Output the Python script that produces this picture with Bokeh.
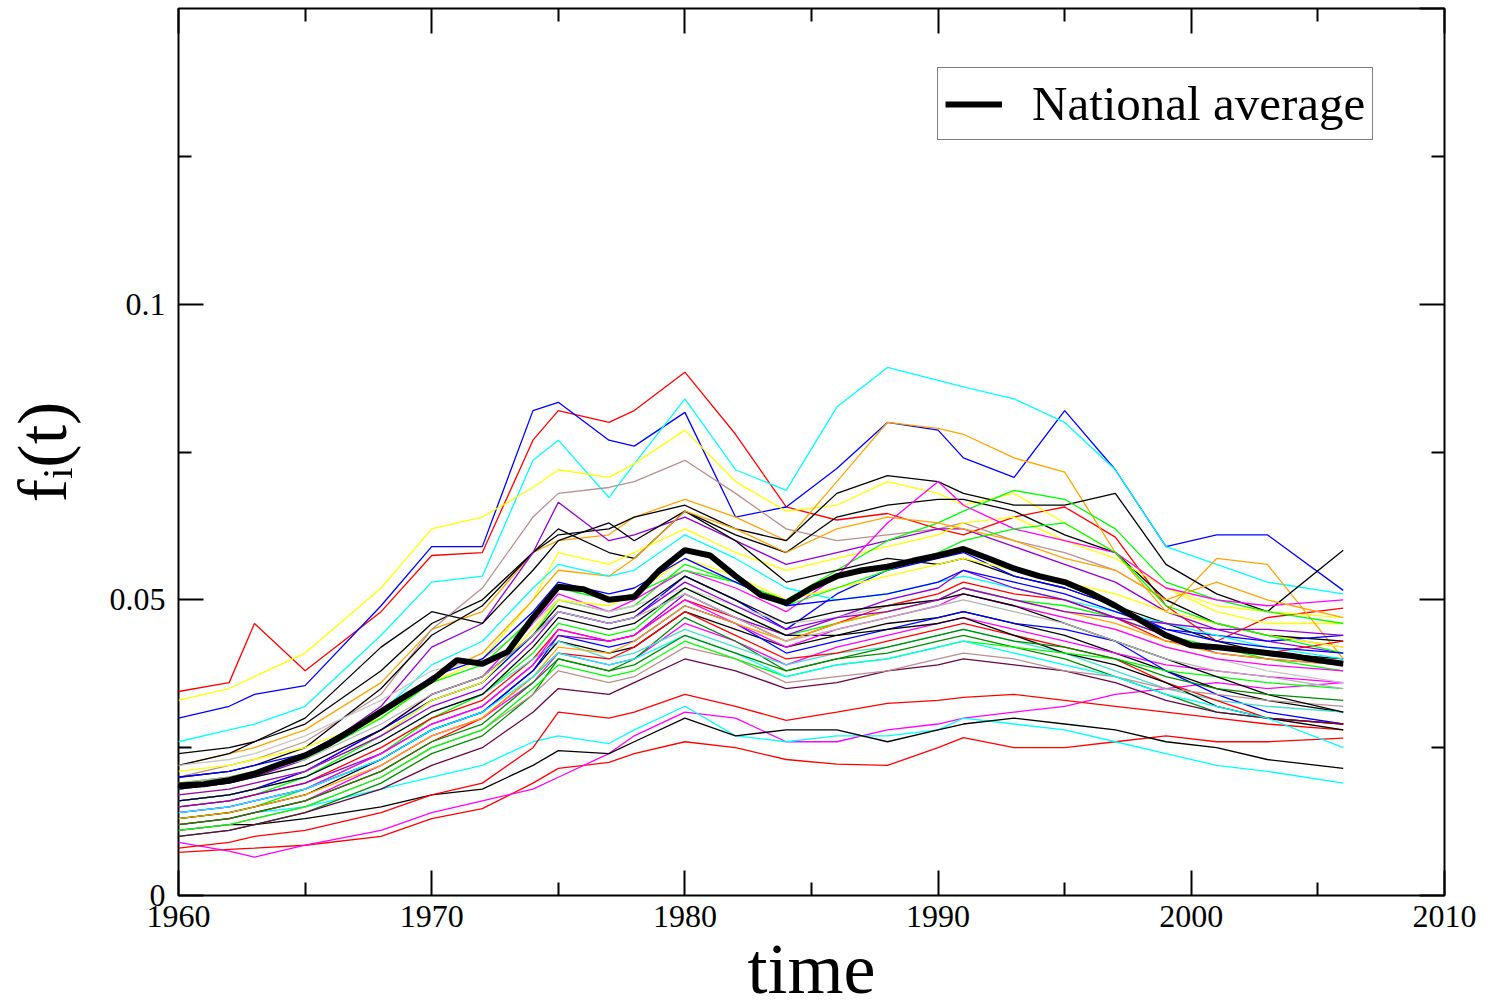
from bokeh.plotting import figure
from bokeh.models import (ColumnDataSource, FixedTicker, LinearAxis, Legend,
                          LegendItem, CustomJSTickFormatter, Range1d)
from bokeh.embed import file_html
from bokeh.resources import INLINE

# ---------------- data ----------------
YEARS = list(range(1960, 2007))
NATIONAL_AVERAGE = [
    0.0186, 0.0188, 0.0195, 0.0206, 0.0222, 0.0237, 0.0258, 0.0284, 0.0311, 0.0338,
    0.0364, 0.0398, 0.0392, 0.0412, 0.0470, 0.0522, 0.0518, 0.0500, 0.0505, 0.0550,
    0.0584, 0.0575, 0.0540, 0.0508, 0.0495, 0.0520, 0.0540, 0.0550, 0.0556, 0.0566,
    0.0575, 0.0586, 0.0570, 0.0553, 0.0540, 0.0530, 0.0512, 0.0490, 0.0465, 0.0440,
    0.0423, 0.0420, 0.0415, 0.0410, 0.0405, 0.0398, 0.0392]

KEY_YEARS = [1960, 1962, 1963, 1965, 1968, 1970, 1972, 1974, 1975, 1977, 1978, 1980, 1982,
             1984, 1986, 1988, 1990, 1991, 1993, 1995, 1997, 1999, 2001, 2003, 2006]

STATE_SERIES = [
    [.0345, .036, .046, .038, .048, .0575, .058, .077, .082, .080, .082, .0885, .078, .0657, .0635, .0646, .062, .061, .064, .0657, .0606, .049, .043, .047, .0486],
    [.030, .032, .034, .0355, .049, .059, .059, .082, .0834, .077, .076, .0817, .064, .0657, .0722, .080, .0787, .074, .0707, .082, .072, .059, .061, .061, .0516],
    [.026, .028, .029, .032, .044, .053, .054, .0736, .077, .0673, .073, .084, .072, .0685, .0826, .0893, .0871, .086, .084, .080, .072, .059, .056, .053, .051],
    [.033, .035, .037, .041, .052, .062, .064, .069, .072, .0707, .073, .0787, .070, .065, .066, .070, .068, .066, .068, .063, .058, .052, .048, .046, .046],
    [.022, .024, .025, .028, .036, .045, .048, .058, .060, .061, .064, .067, .064, .060, .070, .080, .079, .078, .074, .0716, .058, .048, .057, .056, .040],
    [.022, .024, .026, .029, .038, .046, .050, .058, .061, .062, .064, .066, .062, .060, .068, .071, .070, .068, .066, .066, .068, .056, .051, .048, .0584],
    [.0073, .0078, .008, .0085, .010, .013, .0147, .019, .0215, .0225, .024, .026, .025, .023, .0222, .022, .025, .0267, .025, .025, .026, .027, .026, .026, .0266],
    [.009, .0075, .0065, .0085, .011, .014, .016, .018, .020, .024, .027, .031, .030, .026, .026, .028, .029, .030, .031, .032, .034, .035, .036, .035, .036],
    [.012, .013, .014, .015, .018, .020, .022, .026, .027, .0257, .028, .032, .027, .026, .027, .027, .028, .030, .029, .028, .026, .024, .022, .021, .019],
    [.011, .012, .012, .013, .015, .017, .018, .022, .0245, .024, .026, .030, .027, .028, .028, .026, .028, .029, .030, .029, .028, .026, .025, .023, .0215],
    [.008, .009, .010, .011, .014, .017, .019, .025, .031, .030, .031, .034, .032, .0296, .031, .0325, .033, .0335, .034, .033, .032, .031, .030, .029, .028],
    [.020, .022, .023, .026, .034, .045, .052, .064, .068, .069, .070, .0736, .068, .062, .060, .061, .062, .063, .060, .058, .055, .050, .046, .044, .042],
    [.020, .021, .022, .025, .035, .044, .049, .058, .062, .058, .057, .065, .061, .058, .064, .066, .067, .067, .065, .061, .058, .050, .046, .044, .043],
    [.018, .019, .020, .023, .032, .042, .046, .058, .0665, .060, .061, .064, .060, .056, .058, .060, .062, .062, .059, .056, .053, .048, .045, .043, .041],
    [.021, .022, .023, .025, .030, .036, .040, .050, .058, .056, .058, .062, .058, .055, .057, .059, .061, .063, .064, .060, .057, .052, .049, .048, .047],
    [.015, .016, .017, .020, .027, .033, .036, .044, .050, .048, .049, .056, .053, .050, .055, .060, .063, .065, .0685, .067, .062, .053, .050, .048, .046],
    [.016, .017, .018, .021, .028, .034, .037, .046, .051, .048, .050, .055, .052, .048, .054, .063, .070, .066, .062, .060, .058, .052, .050, .049, .050],
    [.024, .025, .026, .030, .042, .048, .046, .055, .060, .063, .060, .065, .060, .053, .055, .057, .056, .057, .054, .052, .049, .046, .043, .041, .040],
    [.019, .020, .021, .024, .031, .037, .041, .050, .055, .054, .057, .065, .062, .058, .062, .064, .063, .062, .060, .057, .055, .050, .053, .050, .047],
    [.016, .017, .018, .021, .028, .033, .036, .044, .048, .046, .047, .054, .050, .045, .051, .055, .057, .058, .054, .052, .049, .045, .044, .043, .044],
    [.018, .019, .021, .024, .031, .039, .043, .052, .056, .054, .055, .061, .057, .052, .050, .051, .053, .054, .052, .050, .048, .046, .044, .042, .040],
    [.013, .014, .015, .018, .024, .030, .034, .041, .046, .044, .045, .052, .048, .044, .046, .048, .050, .052, .050, .049, .047, .044, .042, .040, .038],
    [.015, .016, .017, .019, .025, .030, .033, .040, .045, .043, .044, .050, .047, .043, .046, .049, .051, .053, .051, .050, .047, .043, .042, .041, .043],
    [.013, .014, .015, .017, .023, .028, .031, .038, .043, .041, .042, .048, .045, .042, .044, .046, .047, .048, .046, .044, .041, .038, .035, .033, .031],
    [.012, .013, .014, .016, .022, .027, .030, .036, .041, .039, .040, .046, .043, .039, .042, .044, .046, .047, .045, .043, .041, .039, .038, .037, .036],
    [.010, .011, .012, .014, .019, .024, .027, .034, .040, .038, .040, .047, .043, .038, .040, .041, .043, .044, .042, .040, .037, .034, .031, .030, .029],
    [.014, .015, .016, .018, .023, .028, .031, .038, .044, .042, .043, .049, .046, .041, .043, .045, .047, .048, .046, .045, .043, .038, .034, .031, .029],
    [.015, .016, .017, .019, .024, .029, .032, .039, .044, .043, .044, .051, .047, .044, .047, .050, .052, .055, .052, .050, .047, .044, .041, .040, .039],
    [.022, .023, .024, .027, .033, .038, .040, .046, .050, .048, .049, .052, .049, .046, .047, .049, .050, .051, .049, .047, .045, .042, .040, .038, .036],
    [.016, .017, .018, .020, .026, .031, .034, .040, .043, .040, .041, .045, .042, .039, .041, .042, .044, .045, .043, .041, .038, .035, .033, .032, .031],
    [.017, .018, .019, .021, .027, .033, .036, .045, .050, .049, .051, .057, .054, .050, .052, .054, .056, .057, .055, .053, .051, .048, .046, .044, .042],
    [.019, .020, .021, .023, .030, .036, .039, .047, .052, .050, .051, .055, .053, .049, .052, .055, .058, .060, .062, .063, .058, .049, .046, .044, .041],
    [.012, .013, .014, .016, .021, .026, .030, .037, .041, .040, .042, .048, .044, .040, .041, .043, .045, .046, .044, .042, .040, .036, .033, .030, .029],
    [.016, .017, .018, .020, .026, .031, .034, .042, .047, .045, .046, .052, .048, .044, .044, .045, .046, .047, .044, .041, .039, .036, .032, .030, .028],
    [.010, .011, .012, .014, .018, .022, .025, .031, .035, .034, .036, .040, .038, .035, .036, .038, .039, .040, .039, .038, .036, .033, .031, .030, .029],
    [.014, .015, .016, .018, .024, .029, .032, .039, .045, .043, .044, .050, .046, .042, .045, .047, .049, .051, .049, .047, .045, .042, .040, .039, .038],
    [.011, .012, .013, .015, .020, .025, .028, .034, .038, .036, .037, .042, .040, .036, .037, .038, .040, .041, .040, .038, .037, .035, .034, .033, .032],
    [.020, .021, .022, .024, .031, .037, .040, .048, .053, .051, .052, .057, .053, .049, .050, .051, .053, .055, .053, .051, .048, .045, .043, .042, .041],
    [.011, .012, .013, .015, .020, .025, .028, .035, .039, .037, .038, .043, .040, .037, .039, .040, .042, .043, .042, .041, .040, .038, .037, .036, .035],
    [.013, .014, .015, .017, .022, .027, .030, .037, .042, .041, .043, .049, .046, .043, .046, .048, .050, .052, .050, .048, .046, .043, .041, .040, .039],
    [.018, .019, .020, .022, .028, .034, .037, .044, .049, .047, .048, .054, .050, .046, .048, .049, .050, .051, .049, .046, .043, .040, .037, .034, .031],
    [.014, .015, .016, .018, .023, .028, .031, .037, .041, .039, .040, .044, .041, .037, .039, .040, .042, .043, .041, .039, .037, .034, .032, .030, .025],
    [.017, .018, .019, .021, .027, .032, .035, .043, .048, .046, .047, .053, .049, .045, .047, .048, .050, .052, .050, .048, .047, .046, .045, .045, .044],
    [.019, .020, .021, .023, .029, .034, .037, .044, .048, .046, .047, .051, .047, .043, .045, .047, .049, .050, .048, .046, .043, .040, .038, .037, .035],
    [.012, .013, .014, .016, .021, .026, .029, .036, .040, .038, .039, .044, .041, .038, .040, .042, .044, .045, .043, .042, .040, .037, .035, .034, .033],
]

STATE_COLORS = [
    "#ff0000", "#0000ff", "#00ffff", "#ffff00", "#ffa500", "#000000", "#ff0000", "#ff00ff",
    "#00ffff", "#000000", "#ff0000", "#bc8f8f", "#000000", "#9400d3", "#ffff00", "#00ff00",
    "#ff00ff", "#000000", "#ffa500", "#0000ff", "#00ffff", "#00ff00", "#ff0000", "#000000",
    "#ff00ff", "#008b00", "#0000ff", "#9400d3", "#c8c8c8", "#40e0d0", "#ffff00", "#00ff00",
    "#ff0000", "#000000", "#670748", "#ff00ff", "#bc8f8f", "#0000ff", "#00ff00", "#ffa500",
    "#000000", "#00ffff", "#9400d3", "#b4b4b4", "#008b00",
]

X_TICKS = [1960, 1970, 1980, 1990, 2000, 2010]
X_MINOR = [1965, 1975, 1985, 1995, 2005]
Y_TICKS = [0.0, 0.05, 0.1]
Y_MINOR = [0.025, 0.075, 0.125]

SERIF = "Liberation Serif"

# ---------------- figure ----------------
p = figure(frame_width=1266, frame_height=887, output_backend="svg", toolbar_location=None,
           x_range=Range1d(1960, 2010), y_range=Range1d(0, 0.15),
           min_border_left=178, min_border_right=40, min_border_top=8, min_border_bottom=111)
p.grid.visible = False
p.background_fill_color = "white"
p.outline_line_color = "black"
p.outline_line_width = 2

src = ColumnDataSource(dict(xs=[KEY_YEARS] * len(STATE_SERIES), ys=STATE_SERIES, color=STATE_COLORS))
p.multi_line(xs="xs", ys="ys", line_color="color", line_width=1.3, source=src)

avg = p.line(YEARS, NATIONAL_AVERAGE, line_color="black", line_width=6)


def style_axis(ax, ticks, minor, show_labels):
    ax.ticker = FixedTicker(ticks=ticks, minor_ticks=minor)
    ax.axis_line_color = None
    ax.major_tick_in = 25
    ax.major_tick_out = 0
    ax.minor_tick_in = 13
    ax.minor_tick_out = 0
    ax.major_tick_line_width = 2
    ax.minor_tick_line_width = 2
    ax.major_tick_line_color = "black"
    ax.minor_tick_line_color = "black"
    ax.major_label_text_font = SERIF
    if show_labels:
        ax.major_label_text_font_size = "32px"
        ax.major_label_text_color = "black"
    else:
        ax.major_label_text_font_size = "1px"
        ax.major_label_text_color = None
        ax.major_label_standoff = 0


xax = p.xaxis[0]
style_axis(xax, X_TICKS, X_MINOR, True)
xax.major_label_standoff = 10
xax.axis_label = "time"
xax.axis_label_text_font = SERIF
xax.axis_label_text_font_size = "72px"
xax.axis_label_text_font_style = "normal"
xax.axis_label_text_color = "black"
xax.axis_label_standoff = -1

yax = p.yaxis[0]
style_axis(yax, Y_TICKS, Y_MINOR, True)
yax.formatter = CustomJSTickFormatter(code="return tick.toString();")
yax.major_label_standoff = 13
yax.axis_label = "f\u1d62(t)"
yax.axis_label_text_font = SERIF
yax.axis_label_text_font_size = "70px"
yax.axis_label_text_font_style = "normal"
yax.axis_label_text_color = "black"
yax.axis_label_standoff = 26

top_axis = LinearAxis()
style_axis(top_axis, X_TICKS, X_MINOR, False)
p.add_layout(top_axis, "above")
right_axis = LinearAxis()
style_axis(right_axis, [0.0, 0.05, 0.1, 0.15], Y_MINOR, False)
p.add_layout(right_axis, "right")

legend = Legend(items=[LegendItem(label="National average", renderers=[avg])],
                location=(759, 755), label_text_font=SERIF, label_text_font_size="49px",
                label_text_color="black",
                glyph_width=57, glyph_height=30, label_standoff=30, padding=7, margin=0,
                border_line_color="black", border_line_width=1.5, background_fill_alpha=1)
p.add_layout(legend)

open("out.html", "w").write(file_html(p, INLINE))
